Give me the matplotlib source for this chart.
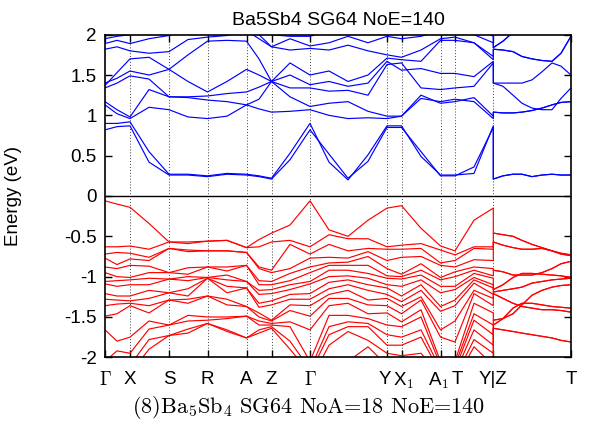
import numpy as np
import matplotlib
matplotlib.use("Agg")
import matplotlib.pyplot as plt
import matplotlib.transforms as mtransforms

plt.rcParams['font.family'] = ['Liberation Sans', 'DejaVu Sans']
plt.rcParams['mathtext.fontset'] = 'cm'

# high-symmetry points along the path
sym_labels = [r'$\Gamma$', 'X', 'S', 'R', 'A', 'Z', r'$\Gamma$', 'Y', r'X$_\mathsf{1}$',
              r'A$_\mathsf{1}$', 'T', 'Y|Z', 'T']
sym_pos = [0, 25, 64, 102.5, 141.5, 166.5, 205, 282, 296.5, 335.5, 350, 388.3, 466]

# k samples: main path Gamma..Y, then the Z..T piece
k_main = [0, 12, 25, 44, 64, 83, 102.5, 122, 141.5, 154, 166.5, 185, 205,
          224, 243, 263, 282, 296.5, 316, 335.5, 350, 369, 388.3]
k_zt = [388.3, 398, 408, 417, 427, 437, 447, 456, 466]

# conduction bands on the main path (eV)
c1 = [0.82, 0.86, 0.87, 0.42, 0.26, 0.26, 0.24, 0.27, 0.26, 0.24, 0.21, 0.45, 0.82, 0.52, 0.22, 0.43, 0.85, 0.85, 0.55, 0.25, 0.25, 0.36, 0.85]
c2 = [0.90, 0.90, 0.92, 0.55, 0.27, 0.27, 0.25, 0.28, 0.27, 0.25, 0.22, 0.53, 0.90, 0.42, 0.20, 0.51, 0.87, 0.87, 0.49, 0.26, 0.26, 0.28, 0.87]
c3 = [1.13, 1.02, 0.96, 1.10, 1.07, 0.98, 0.96, 0.99, 1.13, 1.08, 1.04, 1.05, 1.07, 1.00, 0.96, 0.97, 0.96, 0.99, 1.21, 1.17, 1.20, 1.17, 0.96]
c4 = [1.17, 1.07, 0.98, 1.32, 1.23, 1.22, 1.19, 1.17, 1.13, 1.20, 1.42, 1.23, 1.11, 1.15, 1.17, 1.05, 0.99, 0.99, 1.25, 1.15, 1.17, 1.22, 0.99]
c5 = [1.34, 1.40, 1.49, 1.45, 1.23, 1.23, 1.24, 1.27, 1.29, 1.35, 1.42, 1.34, 1.34, 1.30, 1.31, 1.25, 1.63, 1.65, 1.34, 1.32, 1.34, 1.36, 1.65]
c6 = [1.40, 1.46, 1.55, 1.50, 1.57, 1.42, 1.29, 1.42, 1.57, 1.50, 1.42, 1.50, 1.38, 1.42, 1.36, 1.40, 1.67, 1.56, 1.58, 1.52, 1.52, 1.48, 1.67]
c7 = [1.37, 1.53, 1.70, 1.72, 1.57, 1.75, 1.92, 1.93, 1.92, 1.70, 1.42, 1.65, 1.50, 1.55, 1.42, 1.50, 1.71, 1.69, 1.67, 1.93, 1.93, 1.90, 1.69]
c8 = [1.82, 1.85, 1.80, 1.77, 1.79, 1.94, 1.97, 1.99, 2.05, 1.95, 1.85, 1.81, 1.83, 1.81, 1.87, 1.80, 1.75, 1.72, 1.81, 1.95, 1.97, 1.90, 1.73]
c9 = [1.89, 1.93, 1.89, 1.95, 1.99, 2.05, 2.10, 2.10, 2.10, 2.00, 1.85, 1.95, 1.86, 1.90, 1.98, 1.90, 1.98, 1.95, 1.98, 2.05, 2.08, 2.00, 1.90]
c10 = [1.95, 1.98, 2.00, 2.10, 2.15, 2.20, 2.20, 2.20, 2.15, 2.05, 2.00, 1.98, 1.98, 2.05, 2.10, 2.05, 2.10, 2.10, 2.10, 2.15, 2.15, 2.10, 1.98]

# conduction bands on Z-T
z1 = [0.21, 0.25, 0.27, 0.27, 0.24, 0.26, 0.27, 0.26, 0.26]
z2 = [1.04, 1.03, 1.03, 1.04, 1.06, 1.09, 1.13, 1.16, 1.17]
z3 = [1.40, 1.36, 1.25, 1.15, 1.09, 1.07, 1.07, 1.21, 1.34]
z4 = [1.40, 1.40, 1.40, 1.40, 1.44, 1.54, 1.65, 1.61, 1.50]
z5 = [1.82, 1.81, 1.79, 1.73, 1.70, 1.68, 1.67, 1.77, 1.98]
z6 = [1.84, 1.92, 2.03, 2.12, 2.20, 2.20, 2.20, 2.20, 2.20]

# valence energies at each main-path k sample
v_G = [-0.06, -0.63, -0.72, -0.77, -0.88, -0.95, -1.06, -1.09, -1.21, -1.28, -1.36, -1.49, -1.66, -2.05, -2.15, -2.20, -2.30, -2.40]
v_k1 = [-0.10, -0.63, -0.70, -0.85, -0.90, -1.00, -1.05, -1.12, -1.24, -1.29, -1.34, -1.46, -1.80, -1.92, -2.10, -2.20, -2.30, -2.40]
v_X = [-0.14, -0.62, -0.71, -0.78, -0.86, -1.01, -1.04, -1.10, -1.24, -1.30, -1.33, -1.36, -1.75, -1.95, -2.10, -2.20, -2.30, -2.40]
v_k3 = [-0.34, -0.66, -0.76, -0.80, -0.87, -0.95, -1.02, -1.10, -1.17, -1.27, -1.36, -1.45, -1.55, -1.65, -1.78, -1.90, -2.10, -2.20]
v_S = [-0.57, -0.57, -0.65, -0.65, -0.95, -0.95, -1.03, -1.03, -1.20, -1.20, -1.29, -1.29, -1.60, -1.60, -1.73, -1.73, -2.10, -2.20]
v_k5 = [-0.57, -0.59, -0.67, -0.69, -0.89, -0.97, -1.00, -1.05, -1.15, -1.24, -1.28, -1.33, -1.48, -1.55, -1.65, -1.70, -2.10, -2.20]
v_R = [-0.56, -0.56, -0.68, -0.68, -0.88, -0.88, -1.01, -1.01, -1.02, -1.02, -1.24, -1.24, -1.50, -1.54, -1.58, -1.58, -2.10, -2.20]
v_k7 = [-0.55, -0.55, -0.68, -0.68, -0.88, -0.93, -0.98, -1.04, -1.12, -1.20, -1.28, -1.35, -1.50, -1.52, -1.66, -1.68, -2.10, -2.20]
v_A = [-0.64, -0.64, -0.70, -0.70, -0.86, -0.86, -1.06, -1.06, -1.14, -1.14, -1.37, -1.37, -1.49, -1.49, -1.76, -1.76, -2.10, -2.20]
v_k9 = [-0.54, -0.63, -0.88, -0.90, -1.05, -1.10, -1.17, -1.22, -1.33, -1.38, -1.45, -1.50, -1.55, -1.60, -1.66, -1.70, -2.10, -2.20]
v_Z = [-0.46, -0.57, -0.92, -0.95, -1.06, -1.10, -1.16, -1.21, -1.30, -1.35, -1.54, -1.55, -1.58, -1.60, -1.62, -1.64, -2.10, -2.20]
v_k11 = [-0.36, -0.55, -0.60, -0.90, -0.96, -1.05, -1.10, -1.16, -1.22, -1.28, -1.35, -1.42, -1.56, -1.62, -1.80, -1.90, -2.10, -2.20]
v_k13 = [-0.42, -0.48, -0.60, -0.76, -0.83, -0.86, -0.92, -1.00, -1.07, -1.15, -1.22, -1.27, -1.36, -1.48, -1.62, -1.72, -1.85, -2.00]
v_k14 = [-0.50, -0.53, -0.68, -0.77, -0.82, -0.86, -0.92, -0.99, -1.04, -1.10, -1.17, -1.27, -1.33, -1.48, -1.56, -1.62, -1.68, -2.05]
v_k15 = [-0.30, -0.53, -0.65, -0.69, -0.75, -0.86, -0.96, -1.02, -1.10, -1.17, -1.29, -1.35, -1.46, -1.52, -1.58, -1.62, -1.79, -1.87]
v_Y = [-0.15, -0.63, -0.66, -0.80, -0.90, -0.99, -1.02, -1.10, -1.14, -1.22, -1.27, -1.36, -1.45, -1.60, -1.72, -1.85, -1.95, -2.10]
v_X1 = [-0.12, -0.61, -0.66, -0.76, -0.97, -1.00, -1.03, -1.12, -1.24, -1.31, -1.37, -1.46, -1.56, -1.62, -1.75, -1.85, -1.98, -2.10]
v_k18 = [-0.40, -0.59, -0.65, -0.75, -0.84, -0.92, -0.98, -1.04, -1.10, -1.17, -1.25, -1.29, -1.41, -1.50, -1.66, -1.75, -1.95, -2.10]
v_A1 = [-0.62, -0.67, -0.83, -0.86, -1.01, -1.04, -1.12, -1.20, -1.37, -1.43, -1.66, -1.75, -2.05, -2.10, -2.15, -2.20, -2.25, -2.30]
v_T = [-0.68, -0.73, -0.80, -0.88, -0.94, -1.00, -1.12, -1.16, -1.29, -1.36, -1.55, -1.81, -2.05, -2.10, -2.15, -2.20, -2.25, -2.30]
v_k21 = [-0.30, -0.63, -0.65, -0.79, -0.88, -0.92, -0.96, -1.01, -1.04, -1.08, -1.17, -1.21, -1.33, -1.46, -1.54, -1.66, -1.78, -1.87]

# valence bands on Z-T (each doubly degenerate)
zt1 = [-0.46, -0.48, -0.50, -0.55, -0.60, -0.64, -0.68, -0.71, -0.73]
zt2 = [-0.57, -0.61, -0.64, -0.66, -0.66, -0.65, -0.68, -0.72, -0.74]
zt3 = [-0.92, -0.94, -0.98, -0.98, -0.98, -0.95, -0.90, -0.84, -0.81]
zt4 = [-1.16, -1.10, -1.01, -0.96, -0.96, -0.97, -0.98, -0.99, -1.01]
zt5 = [-1.19, -1.17, -1.15, -1.13, -1.08, -1.06, -1.04, -1.03, -1.02]
zt6 = [-1.54, -1.52, -1.46, -1.35, -1.23, -1.17, -1.13, -1.11, -1.10]
zt7 = [-1.60, -1.52, -1.39, -1.33, -1.33, -1.35, -1.37, -1.38, -1.39]
zt8 = [-1.21, -1.27, -1.33, -1.37, -1.39, -1.41, -1.41, -1.42, -1.44]
zt9 = [-1.64, -1.66, -1.68, -1.70, -1.72, -1.74, -1.76, -1.79, -1.81]

ytick_vals = [-2, -1.5, -1, -0.5, 0, 0.5, 1, 1.5, 2]
ytick_text = ['-2', '-1.5', '-1', '-0.5', '0', '0.5', '1', '1.5', '2']

fig = plt.figure(figsize=(5.91, 4.36), dpi=100)
ax = fig.add_axes([105 / 591, 1 - 357.3 / 436, 466 / 591, 322.6 / 436])

# conduction: main path joined to Z-T (gnuplot draws the jump at Y|Z)
cond_main = [c1, c2, c3, c4, c5, c6, c7, c8, c9, c10]
cond_zt = [z1, z1, z2, z2, z3, z4, z5, z5, z6, z6]
for cm_, cz in zip(cond_main, cond_zt):
    ax.plot(k_main + k_zt, cm_ + cz, color='#0000ff', lw=0.85)

# valence: sort energies at every k, then join to Z-T bands
v_cols = [v_G, v_k1, v_X, v_k3, v_S, v_k5, v_R, v_k7, v_A, v_k9, v_Z, v_k11, v_G,
          v_k13, v_k14, v_k15, v_Y, v_X1, v_k18, v_A1, v_T, v_k21, v_Y]
vmain = -np.sort(-np.array(v_cols), axis=1)
vzt = [zt1, zt1, zt2, zt2, zt3, zt3, zt4, zt4, zt5, zt5, zt8, zt8, zt6, zt6, zt7, zt7, zt9, zt9]
for i in range(vmain.shape[1]):
    ax.plot(k_main + k_zt, list(vmain[:, i]) + vzt[i], color='#ff0000', lw=0.85)

for p in sym_pos[1:-1]:
    ax.axvline(p, color='0.25', ls=(0, (1, 2)), lw=0.7, zorder=0)
ax.axhline(0, color='black', lw=1.0)

ax.set_xlim(0, 466)
ax.set_ylim(-2, 2)
ax.set_yticks(ytick_vals, ytick_text, fontsize=13.5)
ax.set_xticks(sym_pos, sym_labels, fontsize=13.5)
ax.tick_params(direction='in', length=5, width=1, top=True, right=True)
ax.tick_params(axis='x', pad=10)
ax.tick_params(axis='y', pad=6)
for s in ax.spines.values():
    s.set_linewidth(1.2)

# the close labels (Y/X1 and A1/T) are nudged apart a little
tick_labels = ax.get_xticklabels()
for idx, dx in [(7, -2), (8, 2), (9, -2), (10, 2)]:
    lab = tick_labels[idx]
    lab.set_transform(lab.get_transform() + mtransforms.ScaledTranslation(dx / 100, 0, fig.dpi_scale_trans))

ax.set_ylabel('Energy (eV)', fontsize=13.5)
ax.yaxis.set_label_coords(-0.178, 0.5)
ax.set_title('Ba5Sb4 SG64 NoE=140', fontsize=14, pad=7)

fig.text(309 / 591, 1 - 407 / 436, r'(8)Ba$_5$Sb$_4$ SG64 NoA=18 NoE=140',
         family='cmr10', ha='center', va='center', fontsize=16)

fig.savefig('out.png', dpi=100)
